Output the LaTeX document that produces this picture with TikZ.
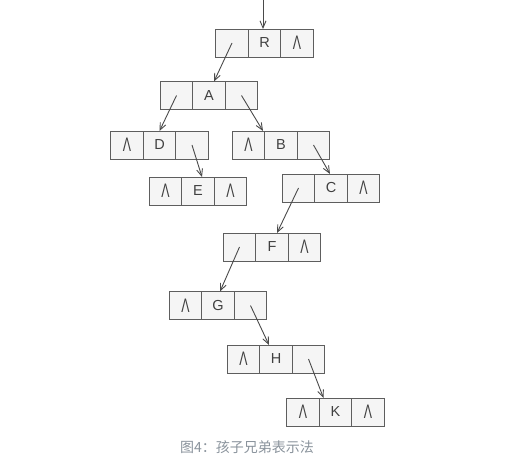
\documentclass[tikz,border=0pt]{standalone}
\usepackage{graphicx}
\usepackage{fontspec}
\setmainfont{Liberation Sans}
\newfontfamily\cjk{Noto Sans CJK SC}
\usetikzlibrary{positioning, arrows.meta}
\definecolor{boxline}{HTML}{5E5E5E}
\definecolor{boxfill}{HTML}{F5F5F5}
\definecolor{ptrline}{HTML}{4A4A4A}
\definecolor{captext}{HTML}{8A939C}
\newcommand{\nullmark}{\scalebox{0.85}[1.35]{Λ}}

\begin{document}
\begin{tikzpicture}[x=1pt, y=-1pt,
		cell/.style={draw=boxline, fill=boxfill, line width=0.9pt, minimum width=32.5pt, minimum height=28pt, inner sep=0pt, outer sep=0pt, text=black!75, font=\fontsize{14.5}{14.5}\selectfont},
		ptr/.style={-{Straight Barb[length=7pt, width=6pt]}, ptrline, line width=0.9pt}]
			\useasboundingbox (0,0) rectangle (520,465);
			
			% -- Records: first child | data | next sibling --
			\foreach \rec/\x/\y/\lft/\rgt in {R/264.5/43//\nullmark, A/209/95.5//, D/159.5/145/\nullmark/, B/281/145/\nullmark/, E/198/191/\nullmark/\nullmark, C/331/188//\nullmark, F/272/247//\nullmark, G/218/305.5/\nullmark/, H/276/359/\nullmark/, K/335.5/412/\nullmark/\nullmark} {
				\node[cell] (\rec) at (\x,\y) {\rec};
				\node[cell, left=0pt of \rec] (\rec-l) {\lft};
				\node[cell, right=0pt of \rec] (\rec-r) {\rgt};
			}
			
			% -- Pointer to the root --
			\coordinate (root) at (263,0);
			\draw[ptr] (root) -- ([xshift=-1.5pt]R.north);
			
			% -- Child and sibling pointers --
			\draw[ptr] (R-l.center) -- ([xshift=5pt]A.north);
			\draw[ptr] (A-l.center) -- (D.north);
			\draw[ptr] (A-r.center) -- ([xshift=-18pt]B.north);
			\draw[ptr] (D-r.center) -- ([xshift=4pt]E.north);
			\draw[ptr] (B-r.center) -- ([xshift=-1pt]C.north);
			\draw[ptr] (C-l.center) -- ([xshift=5pt]F.north);
			\draw[ptr] (F-l.center) -- ([xshift=2pt]G.north);
			\draw[ptr] (G-r.center) -- ([xshift=-7pt]H.north);
			\draw[ptr] (H-r.center) -- ([xshift=-12pt]K.north);
			
			% -- Caption --
			\node[font=\cjk\fontsize{14}{14}\selectfont, text=captext] (caption) at (247,447) {图4：孩子兄弟表示法};
		\end{tikzpicture}
\end{document}
